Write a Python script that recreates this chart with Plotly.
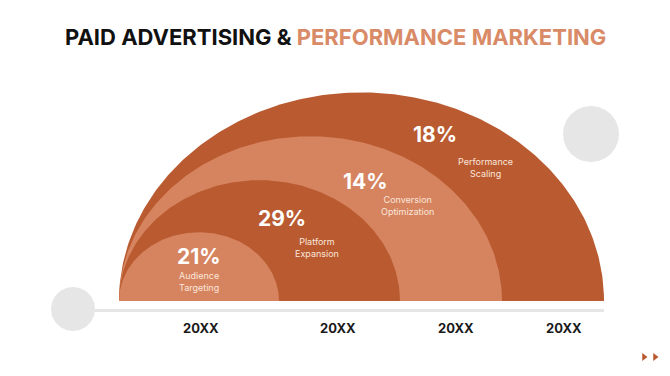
import numpy as np
import plotly.graph_objects as go

# ---- data ----
stages = ["Audience<br>Targeting", "Platform<br>Expansion", "Conversion<br>Optimization", "Performance<br>Scaling"]
percents = [21, 29, 14, 18]
years = ["20XX", "20XX", "20XX", "20XX"]

# ---- style / layout constants ----
DARK = "#B95A30"
LIGHT = "#D6845F"
TITLE_ORANGE = "#D98A66"
GRAY = "#E6E6E6"
FONT = "Inter"

W, H = 670, 376
base_y = 301
left_x = 119
aspect = 0.86
half_widths = [242.5, 191.5, 140.5, 80]          # outer -> inner
ring_colors = [DARK, LIGHT, DARK, LIGHT]

pct_pos = [(199, 256), (282, 218), (365, 181), (435, 134)]
lab_pos = [(199, 281.5), (317, 247), (407, 205), (485, 167)]
year_x = [201, 338, 456, 564]

fig = go.Figure()

# gray circles
def circle(cx, cy, r, color):
    t = np.linspace(0, 2 * np.pi, 120)
    fig.add_trace(go.Scatter(x=cx + r * np.cos(t), y=cy + r * np.sin(t), mode="lines",
                             fill="toself", fillcolor=color, line=dict(width=0),
                             hoverinfo="skip", showlegend=False))

circle(591, 134, 28, GRAY)

# baseline
fig.add_trace(go.Scatter(x=[73, 604], y=[310.5, 310.5], mode="lines",
                         line=dict(color=GRAY, width=3), hoverinfo="skip", showlegend=False))
circle(73, 309, 22, GRAY)

# semicircles
for a, col in zip(half_widths, ring_colors):
    t = np.linspace(np.pi, 0, 200)
    cx = left_x + a
    xs = np.concatenate([cx + a * np.cos(t), [left_x + 2 * a, left_x]])
    ys = np.concatenate([base_y - aspect * a * np.sin(t), [base_y, base_y]])
    fig.add_trace(go.Scatter(x=xs, y=ys, mode="lines", fill="toself", fillcolor=col,
                             line=dict(width=0), hoverinfo="skip", showlegend=False))

# text
for (px, py), p in zip(pct_pos, percents):
    fig.add_annotation(x=px, y=py, text=f"<b>{p}%</b>", showarrow=False,
                       font=dict(family=FONT, size=21, color="white", weight=800))
for (lx, ly), s in zip(lab_pos, stages):
    fig.add_annotation(x=lx, y=ly, text=s, showarrow=False,
                       font=dict(family=FONT, size=9, color="#FBE6DC"))
for x, yr in zip(year_x, years):
    fig.add_annotation(x=x, y=328, text=f"<b>{yr}</b>", showarrow=False,
                       font=dict(family=FONT, size=13, color="#1a1a1a"))

# title
fig.add_annotation(x=335, y=37, showarrow=False,
                   text=f"<b>PAID ADVERTISING & </b><b><span style='color:{TITLE_ORANGE}'>PERFORMANCE MARKETING</span></b>",
                   font=dict(family=FONT, size=22, color="#111111"))

# small triangles
fig.add_trace(go.Scatter(x=[644, 655], y=[357, 357], mode="markers",
                         marker=dict(symbol="triangle-right", size=7, color=DARK),
                         hoverinfo="skip", showlegend=False))

fig.update_layout(width=W, height=H, margin=dict(l=0, r=0, t=0, b=0),
                  paper_bgcolor="white", plot_bgcolor="white",
                  xaxis=dict(range=[0, W], visible=False, fixedrange=True),
                  yaxis=dict(range=[H, 0], visible=False, fixedrange=True))

fig.write_html("out.html", config={"displayModeBar": False},
               post_script="document.body.style.margin='0';document.body.style.overflow='hidden';")
